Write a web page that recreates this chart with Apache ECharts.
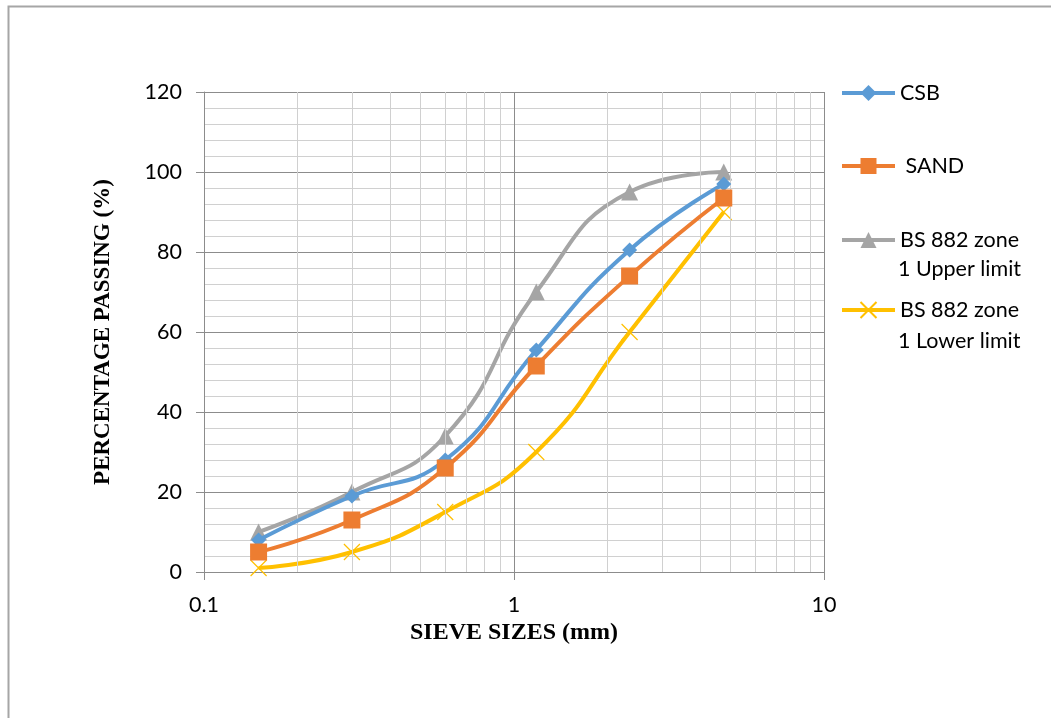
<!DOCTYPE html>
<html>
<head>
<meta charset="utf-8">
<script src="https://cdn.jsdelivr.net/npm/echarts@6/dist/echarts.min.js"></script>
<style>
html,body{margin:0;padding:0;background:#fff;}
#chart{width:1051px;height:718px;}
</style>
</head>
<body>
<div id="chart"></div>
<script>
// Data
const sieveSizes = [0.15, 0.3, 0.6, 1.18, 2.36, 4.75];
const csb = [8, 19, 28, 55.5, 80.5, 97];
const sand = [5, 13, 26, 51.5, 74, 93.5];
const upperLimit = [10, 20, 34, 70, 95, 100];
const lowerLimit = [1, 5, 15, 30, 60, 90];
const minorXLines = [0.2, 0.3, 0.4, 0.5, 0.6, 0.7, 0.8, 0.9, 2, 3, 4, 5, 6, 7, 8, 9];
const seriesNames = ['CSB', 'SAND', 'BS 882 zone 1 Upper limit', 'BS 882 zone 1 Lower limit'];
const legendLine1 = {'CSB': 'CSB', 'SAND': ' SAND', 'BS 882 zone 1 Upper limit': 'BS 882 zone', 'BS 882 zone 1 Lower limit': 'BS 882 zone'};
const legendLine2 = ['1 Upper limit', '1 Lower limit'];

function pairs(ys) { return sieveSizes.map((x, i) => [x, ys[i]]); }

const labelFont = 'Lato, "Open Sans", sans-serif';
const titleFont = '"Liberation Serif", "DejaVu Serif", serif';
const major = '#8c8c8c';
const minor = '#d0d0d0';

const chart = echarts.init(document.getElementById('chart'));

function legendAt(name, centerY) {
  return {
    data: [name],
    left: 835,
    top: centerY - 15,
    orient: 'vertical',
    itemWidth: 53,
    itemHeight: 20,
    selectedMode: false,
    formatter: n => legendLine1[n],
    lineStyle: {width: 4},
    textStyle: {fontFamily: labelFont, fontSize: 21.5, color: '#000', lineHeight: 20}
  };
}

chart.setOption({
  animation: false,
  backgroundColor: '#fff',
  graphic: [
    {type: 'rect', shape: {x: 8.5, y: 6.5, width: 1100, height: 800}, style: {fill: 'none', stroke: '#a6a6a6', lineWidth: 2}, silent: true, z: -10},
    {type: 'text', left: 898, top: 258, style: {text: legendLine2[0], font: '21.5px ' + labelFont, fill: '#000'}},
    {type: 'text', left: 898, top: 330, style: {text: legendLine2[1], font: '21.5px ' + labelFont, fill: '#000'}}
  ],
  legend: [
    legendAt(seriesNames[0], 92),
    legendAt(seriesNames[1], 165),
    legendAt(seriesNames[2], 239),
    legendAt(seriesNames[3], 309)
  ],
  grid: {left: 204, top: 92, right: 227, bottom: 146, containLabel: false},
  xAxis: {
    type: 'log',
    logBase: 10,
    min: 0.1,
    max: 10,
    name: 'SIEVE SIZES (mm)',
    nameLocation: 'middle',
    nameGap: 46,
    nameTextStyle: {fontFamily: titleFont, fontWeight: 'bold', fontSize: 24, color: '#000'},
    axisLine: {show: true, lineStyle: {color: major, width: 1}},
    axisTick: {show: true, length: 8, lineStyle: {color: major}},
    axisLabel: {fontFamily: labelFont, fontSize: 21.5, color: '#000', margin: 22,
      formatter: v => String(+v.toPrecision(3))},
    splitLine: {show: true, lineStyle: {color: major, width: 1}},
    minorSplitLine: {show: false}
  },
  yAxis: {
    type: 'value',
    min: 0,
    max: 120,
    interval: 20,
    name: 'PERCENTAGE PASSING (%)',
    nameLocation: 'middle',
    nameGap: 89,
    nameTextStyle: {fontFamily: titleFont, fontWeight: 'bold', fontSize: 23, color: '#000'},
    axisLine: {show: true, lineStyle: {color: major, width: 1}},
    axisTick: {show: true, length: 8, lineStyle: {color: major}},
    axisLabel: {fontFamily: labelFont, fontSize: 21.5, color: '#000', margin: 22},
    splitLine: {show: true, lineStyle: {color: major, width: 1}},
    minorTick: {show: false, splitNumber: 5},
    minorSplitLine: {show: true, lineStyle: {color: minor, width: 1}}
  },
  series: [
    {
      name: '__grid', type: 'line', data: [], z: 1, silent: true,
      markLine: {
        silent: true, symbol: 'none', label: {show: false}, animation: false,
        lineStyle: {color: minor, width: 1, type: 'solid'},
        emphasis: {disabled: true},
        data: minorXLines.map(v => ({xAxis: v}))
      }
    },
    {
      name: seriesNames[0], type: 'line', data: pairs(csb), smooth: 0.5, z: 5,
      symbol: 'diamond', symbolSize: 15,
      lineStyle: {color: '#5B9BD5', width: 4},
      itemStyle: {color: '#5B9BD5'}
    },
    {
      name: seriesNames[1], type: 'line', data: pairs(sand), smooth: 0.5, z: 5,
      symbol: 'rect', symbolSize: 17,
      lineStyle: {color: '#ED7D31', width: 4},
      itemStyle: {color: '#ED7D31'}
    },
    {
      name: seriesNames[2], type: 'line', data: pairs(upperLimit), smooth: 0.5, z: 4,
      symbol: 'triangle', symbolSize: 17,
      lineStyle: {color: '#A5A5A5', width: 4},
      itemStyle: {color: '#A5A5A5'}
    },
    {
      name: seriesNames[3], type: 'line', data: pairs(lowerLimit), smooth: 0.5, z: 4,
      symbol: 'path://M0,0L10,10M10,0L0,10', symbolSize: 16,
      lineStyle: {color: '#FFC000', width: 4},
      itemStyle: {color: '#FFC000', borderColor: '#FFC000', borderWidth: 1.2}
    }
  ]
});
</script>
</body>
</html>
